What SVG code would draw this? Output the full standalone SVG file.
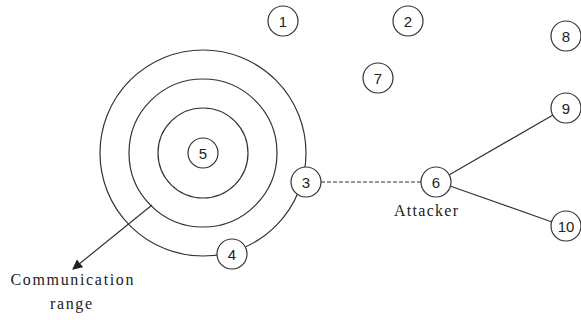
<svg xmlns="http://www.w3.org/2000/svg" width="581" height="320" viewBox="0 0 581 320">
<style>
.n{fill:#fff;stroke:#333;stroke-width:1.2}
.r{fill:none;stroke:#333;stroke-width:1.2}
.t{font-family:"Liberation Sans",Arial,sans-serif;font-size:15px;fill:#222;text-anchor:middle}
.l{font-family:"Liberation Serif","DejaVu Serif","Times New Roman",serif;font-size:16px;fill:#222;text-anchor:middle}
.e{stroke:#333;stroke-width:1.2;fill:none}
</style>
<defs>
<marker id="ah" markerWidth="10" markerHeight="10" refX="9" refY="5" orient="auto" markerUnits="userSpaceOnUse">
<path d="M0,0 L10,5 L0,10 z" fill="#222"/>
</marker>
</defs>
<rect width="581" height="320" fill="#fff"/>
<g id="ranges">
<circle class="r" cx="203" cy="153" r="103"/>
<circle class="r" cx="203" cy="153" r="74"/>
<circle class="r" cx="203" cy="153" r="45"/>
</g>
<g id="connectors">
<line class="e" x1="321" y1="182" x2="421" y2="182" stroke-dasharray="4,2"/>
<line class="e" x1="449" y1="175" x2="553" y2="115"/>
<line class="e" x1="450" y1="186" x2="552" y2="222"/>
<line class="e" x1="152" y1="205" x2="73" y2="269" marker-end="url(#ah)"/>
</g>
<g id="n1"><circle class="n" cx="283" cy="21" r="15"/><text class="t" x="283" y="26.5">1</text></g>
<g id="n2"><circle class="n" cx="408" cy="21" r="15"/><text class="t" x="408" y="26.5">2</text></g>
<g id="n8"><circle class="n" cx="566" cy="36" r="15"/><text class="t" x="566" y="41.5">8</text></g>
<g id="n7"><circle class="n" cx="378" cy="78" r="15"/><text class="t" x="378" y="83.5">7</text></g>
<g id="n5"><circle class="n" cx="203" cy="153" r="15"/><text class="t" x="203" y="158.5">5</text></g>
<g id="n9"><circle class="n" cx="566" cy="108" r="15"/><text class="t" x="566" y="113.5">9</text></g>
<g id="n3"><circle class="n" cx="306" cy="182" r="15"/><text class="t" x="306" y="187.5">3</text></g>
<g id="n6"><circle class="n" cx="436" cy="182" r="15"/><text class="t" x="436" y="187.5">6</text></g>
<g id="n10"><circle class="n" cx="566" cy="226" r="15"/><text class="t" x="566" y="231.5">10</text></g>
<g id="n4"><circle class="n" cx="232" cy="254" r="15"/><text class="t" x="232" y="259.5">4</text></g>
<text class="l" x="426" y="216" textLength="64" lengthAdjust="spacing">Attacker</text>
<text class="l" x="72" y="285" textLength="123" lengthAdjust="spacing">Communication</text>
<text class="l" x="71" y="309" textLength="42" lengthAdjust="spacing">range</text>
</svg>
